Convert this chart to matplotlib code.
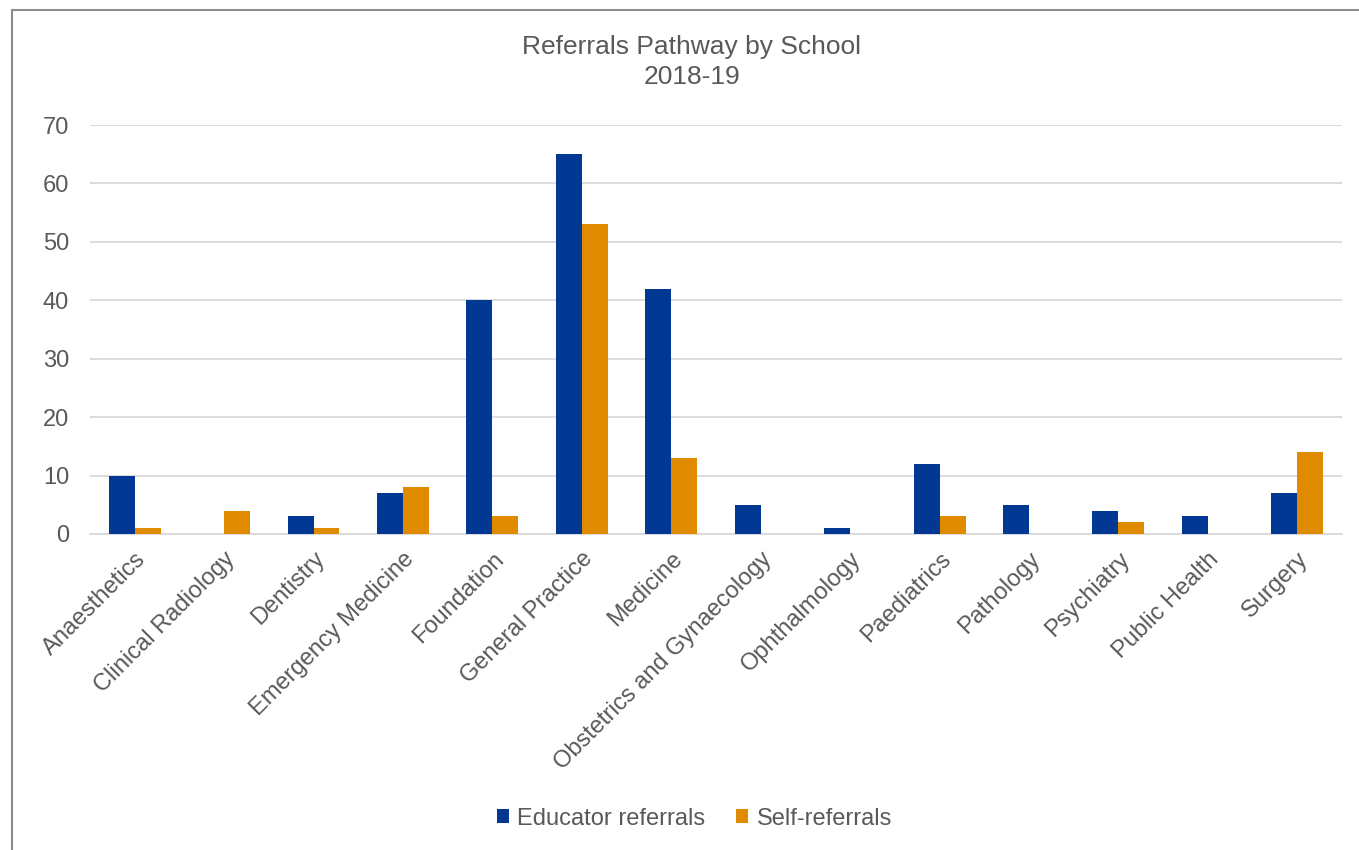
import numpy as np
import matplotlib.pyplot as plt
from matplotlib.lines import Line2D

# Referral counts per school, 2018-19
schools = [
    "Anaesthetics", "Clinical Radiology", "Dentistry", "Emergency Medicine",
    "Foundation", "General Practice", "Medicine", "Obstetrics and Gynaecology",
    "Ophthalmology", "Paediatrics", "Pathology", "Psychiatry", "Public Health",
    "Surgery",
]
educator = [10, 0, 3, 7, 40, 65, 42, 5, 1, 12, 5, 4, 3, 7]
self_ref = [1, 4, 1, 8, 3, 53, 13, 0, 0, 3, 0, 2, 0, 14]

BLUE = "#003893"
ORANGE = "#E08A00"
TEXT = "#595959"
GRID = "#D9D9D9"

plt.rcParams["font.family"] = ["Liberation Sans", "DejaVu Sans"]

fig = plt.figure(figsize=(13.59, 8.5), dpi=100)
ax = fig.add_axes([0.0662, 0.3718, 0.9213, 0.4811])

x = np.arange(len(schools))
w = 0.29
ax.bar(x - w / 2, educator, w, color=BLUE, label="Educator referrals", zorder=3)
ax.bar(x + w / 2, self_ref, w, color=ORANGE, label="Self-referrals", zorder=3)

ax.set_xlim(-0.5, len(schools) - 0.5)
ax.set_ylim(0, 70)
ax.set_yticks(range(0, 71, 10))
ax.yaxis.grid(True, color=GRID, linewidth=1.3, zorder=0)
ax.set_axisbelow(True)
for side in ("top", "right", "left"):
    ax.spines[side].set_visible(False)
ax.spines["bottom"].set_color(GRID)
ax.spines["bottom"].set_linewidth(1.3)
ax.tick_params(axis="both", length=0, labelsize=17, colors=TEXT)
ax.tick_params(axis="y", pad=15)
ax.tick_params(axis="x", pad=10)
ax.set_xticks(x)
ax.set_xticklabels(schools, rotation=45, ha="right", rotation_mode="anchor")

fig.text(0.509, 0.945, "Referrals Pathway by School", ha="center", va="center",
         fontsize=19, color=TEXT)
fig.text(0.509, 0.910, "2018-19", ha="center", va="center",
         fontsize=19, color=TEXT)

leg = fig.legend(loc="center", bbox_to_anchor=(0.511, 0.037), ncol=2, frameon=False,
                 fontsize=17, handlelength=0.52, handleheight=0.52, handletextpad=0.35,
                 columnspacing=1.3)
for t in leg.get_texts():
    t.set_color(TEXT)

# chart frame (left and top edges)
fig.add_artist(Line2D([0.0085, 0.0085], [0.0, 0.988], color="#8C8C8C", linewidth=1.5))
fig.add_artist(Line2D([0.0085, 1.0], [0.988, 0.988], color="#8C8C8C", linewidth=1.5))

fig.savefig("out.png", dpi=100, facecolor="white")
